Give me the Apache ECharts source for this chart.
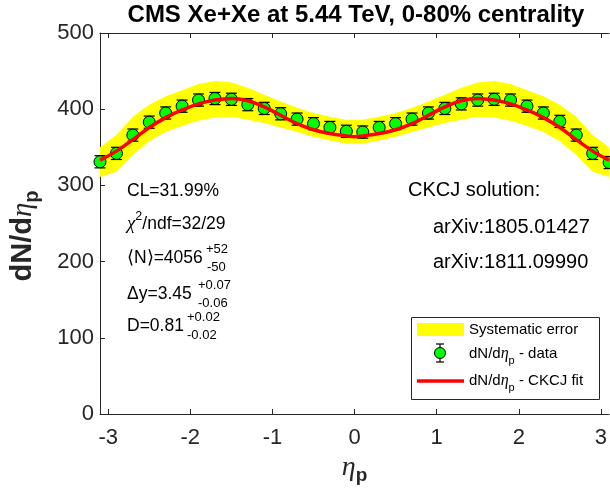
<!DOCTYPE html>
<html><head><meta charset="utf-8">
<script src="https://cdn.jsdelivr.net/npm/echarts@6/dist/echarts.min.js"></script>
<style>html,body{margin:0;padding:0;background:#fff}#c{width:610px;height:497px}</style>
</head><body><div id="c"></div>
<script>
// ---- data ----
const eta = [-3.1,-2.9,-2.7,-2.5,-2.3,-2.1,-1.9,-1.7,-1.5,-1.3,-1.1,-0.9,-0.7,-0.5,-0.3,-0.1,
             0.1,0.3,0.5,0.7,0.9,1.1,1.3,1.5,1.7,1.9,2.1,2.3,2.5,2.7,2.9,3.1];
const dndeta = [331,342,366,383,395,404,412,414,413,406,401,394,387,381,376,371,
                370,376,381,387,395,401,407,412,413,412,404,395,384,366,342,330];
const statErr = [8,8,8,8,8,8,8,8,8,8,8,8,8,8,8,8,
                 8,8,8,8,8,8,8,8,8,8,8,8,8,8,8,8];
const sysUpper = [350,366,390,406,417,425,433,437,435,428,419,410,402,395,390,386,
                  386,390,395,402,410,419,428,435,437,433,425,417,406,390,366,350];
const sysLower = [311,318,340,358,370,378,385,389,390,386,382,376,370,364,359,355,
                  355,359,364,370,376,382,386,390,389,385,378,370,358,340,318,311];
const fitEta = [-3.1,-2.9,-2.7,-2.5,-2.3,-2.1,-1.9,-1.7,-1.5,-1.3,-1.1,-0.9,-0.7,-0.5,-0.3,-0.1,0,
                0.1,0.3,0.5,0.7,0.9,1.1,1.3,1.5,1.7,1.9,2.1,2.3,2.5,2.7,2.9,3.1];
const fitVal = [333,345,360,376,389,399,407,412,414,411,403,392,381,373,368,365,364,
                365,368,373,381,392,403,411,414,412,407,399,389,376,360,345,333];
const xTicks = [-3,-2,-1,0,1,2,3];
const titleText = 'CMS Xe+Xe at 5.44 TeV, 0-80% centrality';

const SANS = "'Liberation Sans', Arial, Helvetica, sans-serif";
const SERIF = "'Liberation Serif', 'DejaVu Serif', serif";
const AX = '#262626';

const chart = echarts.init(document.getElementById('c'), null, {renderer: 'canvas'});

function T(x, y, text, size, extra) {
  return Object.assign({type: 'text', x: x, y: y, z: 100,
    style: Object.assign({text: text, fontSize: size, fontFamily: SANS, fill: '#000',
      align: 'left', verticalAlign: 'middle', textAlign: 'left', textVerticalAlign: 'middle'}, extra || {})});
}
const richMain = {
  m: {fontSize: 17.5, fontFamily: SANS, lineHeight: 28, verticalAlign: 'middle', fill: '#000'},
  g: {fontSize: 19, fontFamily: SERIF, fontStyle: 'italic', lineHeight: 28, fill: '#000'},
  sup: {fontSize: 12.5, fontFamily: SANS, lineHeight: 14, verticalAlign: 'top', fill: '#000'}
};
const richLeg = {
  m: {fontSize: 15, fontFamily: SANS, lineHeight: 24, verticalAlign: 'middle', fill: '#000'},
  g: {fontSize: 16, fontFamily: SERIF, fontStyle: 'italic', lineHeight: 24, fill: '#000'},
  sub: {fontSize: 11, fontFamily: SANS, lineHeight: 11, verticalAlign: 'bottom', fill: '#000'}
};

const option = {
  animation: false,
  backgroundColor: '#fff',
  grid: {left: 100, right: 0, top: 33, bottom: 83, containLabel: false},
  xAxis: [{
    type: 'value', min: -3.1, max: 3.1, position: 'bottom',
    axisLine: {show: true, onZero: false, lineStyle: {color: AX, width: 1}},
    axisTick: {show: true, inside: true, length: 5, customValues: xTicks, lineStyle: {color: AX}},
    axisLabel: {show: true, customValues: xTicks, fontSize: 22, fontFamily: SANS, color: AX, margin: 13,
      showMinLabel: true, showMaxLabel: true},
    splitLine: {show: false},
    name: '{g|η}{s|p}', nameLocation: 'middle', nameGap: 36,
    nameTextStyle: {rich: {
      g: {fontSize: 28, fontFamily: SERIF, fontStyle: 'italic', color: AX, lineHeight: 34},
      s: {fontSize: 19, fontFamily: SANS, fontWeight: 'bold', color: AX, lineHeight: 19, verticalAlign: 'bottom'}
    }}
  }, {
    type: 'value', min: -3.1, max: 3.1, position: 'top',
    axisLine: {show: true, onZero: false, lineStyle: {color: AX, width: 1}},
    axisTick: {show: true, inside: true, length: 5, customValues: xTicks, lineStyle: {color: AX}},
    axisLabel: {show: false}, splitLine: {show: false}
  }],
  yAxis: [{
    type: 'value', min: 0, max: 500, interval: 100,
    axisLine: {show: true, onZero: false, lineStyle: {color: AX, width: 1}},
    axisTick: {show: true, inside: true, length: 5, lineStyle: {color: AX}},
    axisLabel: {fontSize: 22, fontFamily: SANS, color: AX, margin: 6},
    splitLine: {show: false}
  }],
  series: [
    {
      name: 'Systematic error', type: 'custom', z: 1,
      data: eta.map((e, i) => [e, sysLower[i], sysUpper[i]]),
      encode: {x: 0, y: [1, 2]},
      renderItem: function (params, api) {
        if (params.dataIndex !== 0) return null;
        const pts = [];
        for (let i = 0; i < eta.length; i++) pts.push(api.coord([eta[i], sysUpper[i]]));
        for (let i = eta.length - 1; i >= 0; i--) pts.push(api.coord([eta[i], sysLower[i]]));
        return {type: 'polygon', shape: {points: pts}, style: {fill: '#ffff00', stroke: 'none'}};
      }
    },
    {
      name: 'errors', type: 'custom', z: 3,
      data: eta.map((e, i) => [e, dndeta[i] - statErr[i], dndeta[i] + statErr[i]]),
      encode: {x: 0, y: [1, 2]},
      renderItem: function (params, api) {
        const lo = api.coord([api.value(0), api.value(1)]);
        const hi = api.coord([api.value(0), api.value(2)]);
        const w = 5.5;
        const st = {stroke: '#000', lineWidth: 1.2, fill: 'none'};
        return {type: 'group', children: [
          {type: 'line', shape: {x1: lo[0], y1: lo[1], x2: hi[0], y2: hi[1]}, style: st},
          {type: 'line', shape: {x1: lo[0] - w, y1: lo[1], x2: lo[0] + w, y2: lo[1]}, style: st},
          {type: 'line', shape: {x1: hi[0] - w, y1: hi[1], x2: hi[0] + w, y2: hi[1]}, style: st}
        ]};
      }
    },
    {
      name: 'data', type: 'scatter', z: 4,
      data: eta.map((e, i) => [e, dndeta[i]]),
      symbol: 'circle', symbolSize: 12, clip: false,
      itemStyle: {color: '#00ff00', borderColor: '#000', borderWidth: 1, opacity: 1}
    },
    {
      name: 'fit', type: 'line', z: 5, smooth: 0.4, symbol: 'none', clip: true,
      data: fitEta.map((e, i) => [e, fitVal[i]]),
      lineStyle: {color: '#ff0000', width: 3.5}
    }
  ],
  graphic: [
    T(356, 15, titleText, 24, {fontWeight: 'bold', align: 'center', textAlign: 'center'}),
    {type: 'text', x: 23, y: 236, rotation: Math.PI / 2, z: 100,
      style: {text: '{b|dN/d}{g|η}{s|p}', align: 'center', verticalAlign: 'middle',
        textAlign: 'center', textVerticalAlign: 'middle',
        rich: {
          b: {fontSize: 29, fontFamily: SANS, fontWeight: 'bold', fill: AX, lineHeight: 38, verticalAlign: 'middle'},
          g: {fontSize: 29, fontFamily: SERIF, fontStyle: 'italic', fill: AX, lineHeight: 38, verticalAlign: 'middle'},
          s: {fontSize: 20, fontFamily: SANS, fontWeight: 'bold', fill: AX, lineHeight: 20, verticalAlign: 'bottom'}
        }}},
    T(127, 191, 'CL=31.99%', 17.5),
    T(127, 224, '{g|χ}{sup|2}{m|/ndf=32/29}', 17.5, {rich: richMain}),
    T(127, 258, '⟨N⟩=4056', 17.5),
    T(206, 249, '+52', 13),
    T(207, 267, '-50', 13),
    T(127, 294, 'Δy=3.45', 17.5),
    T(198, 285, '+0.07', 13),
    T(198, 303, '-0.06', 13),
    T(127, 326, 'D=0.81', 17.5),
    T(187, 317, '+0.02', 13),
    T(187, 335, '-0.02', 13),
    T(408, 190, 'CKCJ solution:', 20),
    T(433, 227, 'arXiv:1805.01427', 20),
    T(433, 262, 'arXiv:1811.09990', 20),
    // legend
    {type: 'rect', z: 90, shape: {x: 411.5, y: 317.5, width: 188, height: 82},
      style: {fill: '#fff', stroke: '#262626', lineWidth: 1}},
    {type: 'rect', z: 91, shape: {x: 417, y: 323, width: 47, height: 13}, style: {fill: '#ffff00'}},
    T(469, 330, 'Systematic error', 15),
    {type: 'line', z: 91, shape: {x1: 440, y1: 344, x2: 440, y2: 362}, style: {stroke: '#000', lineWidth: 1.2}},
    {type: 'line', z: 91, shape: {x1: 436, y1: 344, x2: 444, y2: 344}, style: {stroke: '#000', lineWidth: 1.2}},
    {type: 'line', z: 91, shape: {x1: 436, y1: 362, x2: 444, y2: 362}, style: {stroke: '#000', lineWidth: 1.2}},
    {type: 'circle', z: 92, shape: {cx: 440, cy: 353, r: 5.5}, style: {fill: '#00ff00', stroke: '#000', lineWidth: 1}},
    T(469, 354, '{m|dN/d}{g|η}{sub|p}{m| - data}', 15, {rich: richLeg}),
    {type: 'line', z: 91, shape: {x1: 417, y1: 381, x2: 464, y2: 381}, style: {stroke: '#ff0000', lineWidth: 3.5}},
    T(469, 381, '{m|dN/d}{g|η}{sub|p}{m| - CKCJ fit}', 15, {rich: richLeg})
  ]
};
chart.setOption(option);
</script>
</body></html>
